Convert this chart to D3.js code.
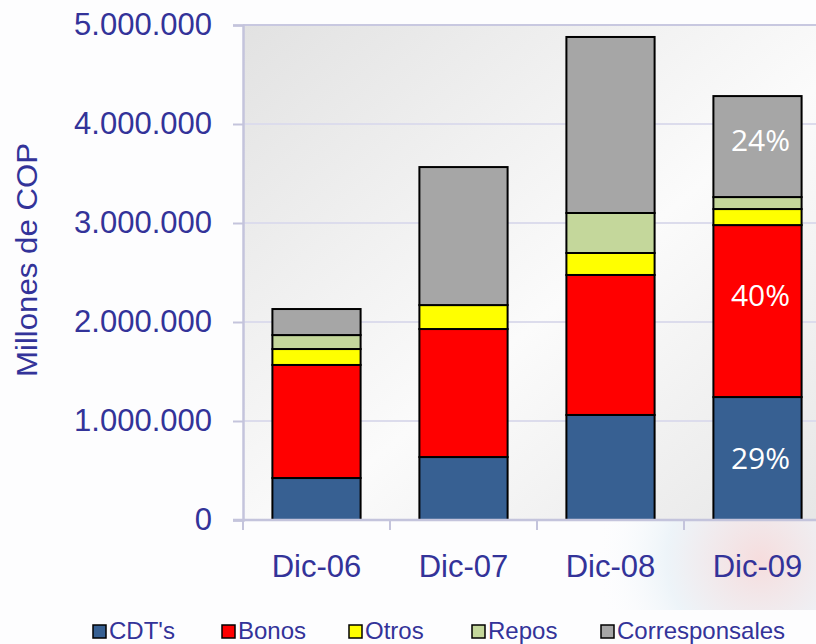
<!DOCTYPE html>
<html>
<head>
  <meta charset="UTF-8">
  <title>Millones de COP</title>
  <script src="https://d3js.org/d3.v7.min.js"></script>
  <style>
    body { margin: 0; background: #fff; }
    svg { display: block; }
  </style>
</head>
<body>
<div id="chart"></div>
<script>
  // data
  var categories = ["Dic-06", "Dic-07", "Dic-08", "Dic-09"];
  var seriesNames = ["CDT's", "Bonos", "Otros", "Repos", "Corresponsales"];
  var cdts = [424000, 636000, 1061000, 1242000];
  var bonos = [1142000, 1293000, 1414000, 1737000];
  var otros = [161000, 242000, 222000, 162000];
  var repos = [141000, 0, 404000, 121000];
  var corresponsales = [263000, 1394000, 1778000, 1020000];
  var yTicks = [0, 1000000, 2000000, 3000000, 4000000, 5000000];
  // percentage labels on the last bar: [series, text]
  var pctLabels = [["CDT's", "29%"], ["Bonos", "40%"], ["Corresponsales", "24%"]];

  var colors = {
    "CDT's": "#376092",
    "Bonos": "#ff0000",
    "Otros": "#ffff00",
    "Repos": "#c4d79b",
    "Corresponsales": "#a6a6a6"
  };

  var W = 816, H = 644;
  var pLeft = 243, pRight = 831, pTop = 25, pBottom = 520;

  var svg = d3.select("#chart").append("svg")
    .attr("width", W)
    .attr("height", H);

  var defs = svg.append("defs");
  var pg = defs.append("linearGradient").attr("id", "plotBg")
    .attr("x1", "0").attr("y1", "0").attr("x2", "1").attr("y2", "1");
  pg.append("stop").attr("offset", "0%").attr("stop-color", "#e2e2e2");
  pg.append("stop").attr("offset", "55%").attr("stop-color", "#fbfbfb");
  pg.append("stop").attr("offset", "100%").attr("stop-color", "#e6e6e6");

  var deco = defs.append("radialGradient").attr("id", "deco")
    .attr("gradientUnits", "userSpaceOnUse")
    .attr("cx", 760).attr("cy", 560).attr("r", 170);
  deco.append("stop").attr("offset", "0%").attr("stop-color", "#f3cfcf").attr("stop-opacity", 0.7);
  deco.append("stop").attr("offset", "55%").attr("stop-color", "#e3eef5").attr("stop-opacity", 0.6);
  deco.append("stop").attr("offset", "100%").attr("stop-color", "#ffffff").attr("stop-opacity", 0);

  // page background
  svg.append("rect").attr("width", W).attr("height", H).attr("fill", "#fdfdfe");
  svg.append("rect").attr("x", 0).attr("y", pBottom).attr("width", W).attr("height", 90).attr("fill", "url(#deco)");

  var x = d3.scaleBand()
    .domain(categories)
    .range([pLeft, pRight])
    .paddingInner(0.4)
    .paddingOuter(0.2);

  var y = d3.scaleLinear()
    .domain([0, 5000000])
    .range([pBottom, pTop]);

  // plot area
  svg.append("rect")
    .attr("x", pLeft).attr("y", pTop)
    .attr("width", pRight - pLeft).attr("height", pBottom - pTop)
    .attr("fill", "url(#plotBg)");

  // grid lines
  svg.append("g").selectAll("line")
    .data(yTicks.slice(1))
    .enter().append("line")
    .attr("x1", pLeft).attr("x2", pRight)
    .attr("y1", function (d) { return y(d); })
    .attr("y2", function (d) { return y(d); })
    .attr("stroke", function (d, i) { return i == yTicks.length - 2 ? "#c8c8e0" : "#dcdcec"; })
    .attr("stroke-width", 2);

  // stacked bars
  var table = categories.map(function (c, i) {
    return {
      cat: c,
      "CDT's": cdts[i],
      "Bonos": bonos[i],
      "Otros": otros[i],
      "Repos": repos[i],
      "Corresponsales": corresponsales[i]
    };
  });
  var stacked = d3.stack().keys(seriesNames)(table);

  var layers = svg.append("g").selectAll("g")
    .data(stacked)
    .enter().append("g")
    .attr("fill", function (d) { return colors[d.key]; });

  layers.selectAll("rect")
    .data(function (d) { return d.filter(function (p) { return p[1] - p[0] > 0; }); })
    .enter().append("rect")
    .attr("x", function (d) { return x(d.data.cat); })
    .attr("y", function (d) { return y(d[1]); })
    .attr("width", x.bandwidth())
    .attr("height", function (d) { return y(d[0]) - y(d[1]); })
    .attr("stroke", "#000")
    .attr("stroke-width", 2);

  // percentage labels on the last bar
  var lastIdx = categories.length - 1;
  svg.append("g").selectAll("text")
    .data(pctLabels)
    .enter().append("text")
    .attr("x", x(categories[lastIdx]) + x.bandwidth() / 2 + 3)
    .attr("y", function (d) {
      var s = stacked[seriesNames.indexOf(d[0])][lastIdx];
      var mid = (y(s[0]) + y(s[1])) / 2;
      if (d[0] == "Bonos") mid -= 16;
      if (d[0] == "Corresponsales") mid -= 6;
      return mid;
    })
    .attr("dy", "0.36em")
    .attr("text-anchor", "middle")
    .attr("fill", "#fff")
    .style("font-family", "'Open Sans', sans-serif")
    .style("font-size", "30px")
    .style("font-weight", "normal")
    .text(function (d) { return d[1]; });

  // y axis
  var fmt = function (v) { return d3.format(",")(v).replace(/,/g, "."); };
  var yAxis = svg.append("g")
    .attr("transform", "translate(" + pLeft + ",0)")
    .call(d3.axisLeft(y).tickValues(yTicks).tickFormat(fmt).tickSize(10).tickPadding(21));
  yAxis.select(".domain").attr("stroke", "#c4c4dc").attr("stroke-width", 2.5);
  yAxis.selectAll(".tick line").attr("stroke", "#c4c4dc").attr("stroke-width", 2);
  yAxis.selectAll(".tick text")
    .attr("fill", "#333399")
    .style("font-family", "'Liberation Sans', Arial, sans-serif")
    .style("font-size", "31px");

  // x axis
  var xAxis = svg.append("g")
    .attr("transform", "translate(0," + pBottom + ")");
  xAxis.append("line")
    .attr("x1", pLeft - 10).attr("x2", W)
    .attr("stroke", "#c4c4dc").attr("stroke-width", 2.5);
  var bounds = categories.map(function (c) { return x(c) - x.step() * x.paddingInner() / 2; });
  xAxis.selectAll(".xt")
    .data(bounds)
    .enter().append("line")
    .attr("x1", function (d) { return Math.round(d); })
    .attr("x2", function (d) { return Math.round(d); })
    .attr("y1", 0).attr("y2", 10)
    .attr("stroke", "#c4c4dc").attr("stroke-width", 2);
  xAxis.selectAll(".xl")
    .data(categories)
    .enter().append("text")
    .attr("x", function (d) { return x(d) + x.bandwidth() / 2; })
    .attr("y", 57)
    .attr("text-anchor", "middle")
    .attr("fill", "#333399")
    .style("font-family", "'Liberation Sans', Arial, sans-serif")
    .style("font-size", "31px")
    .text(function (d) { return d; });

  // y axis title
  svg.append("text")
    .attr("transform", "translate(37,260) rotate(-90)")
    .attr("text-anchor", "middle")
    .attr("fill", "#333399")
    .style("font-family", "'Liberation Sans', Arial, sans-serif")
    .style("font-size", "30px")
    .attr("textLength", 234)
    .attr("lengthAdjust", "spacingAndGlyphs")
    .text("Millones de COP");

  // legend
  var legendX = [93, 222, 349, 472, 601];
  var legend = svg.append("g").selectAll("g")
    .data(seriesNames)
    .enter().append("g")
    .attr("transform", function (d, i) { return "translate(" + legendX[i] + ",625)"; });
  legend.append("rect")
    .attr("width", 13).attr("height", 13)
    .attr("fill", function (d) { return colors[d]; })
    .attr("stroke", "#000").attr("stroke-width", 1.5);
  legend.append("text")
    .attr("x", 16).attr("y", 14)
    .attr("fill", "#333399")
    .style("font-family", "'Liberation Sans', Arial, sans-serif")
    .style("font-size", "24px")
    .text(function (d) { return d; });
</script>
</body>
</html>
